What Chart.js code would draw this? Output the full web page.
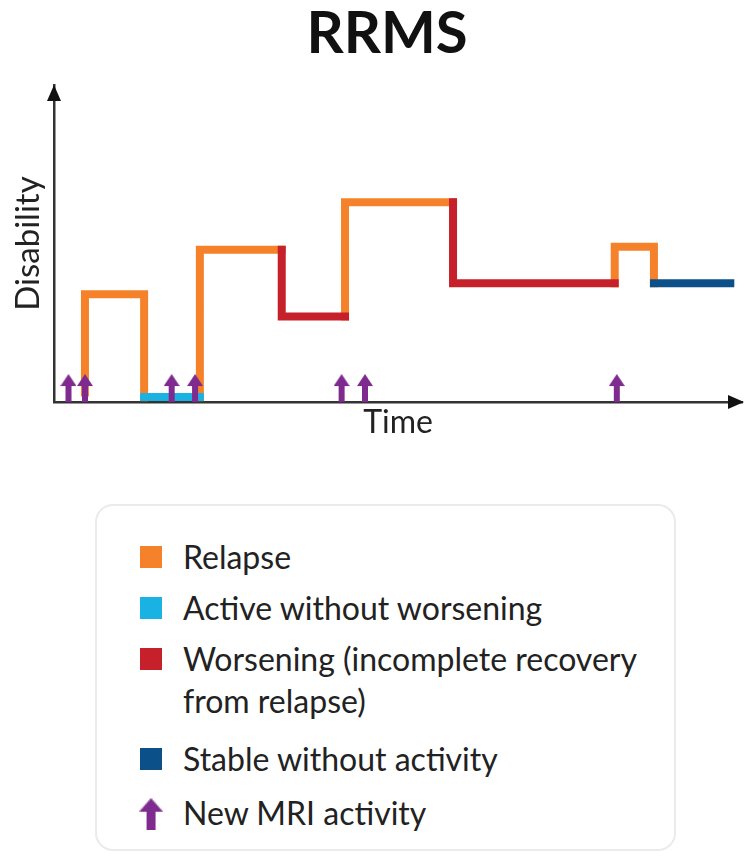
<!DOCTYPE html>
<html>
<head>
<meta charset="utf-8">
<script src="https://cdn.jsdelivr.net/npm/chart.js@4"></script>
<style>
	body { margin: 0; background: #fff; font-family: Lato, sans-serif; color: #222; }
	#page { position: relative; width: 744px; height: 859px; overflow: hidden; }
	#title { position: absolute; left: 0; top: 2px; width: 774px; text-align: center; font-weight: bold; font-size: 58px; line-height: 58px; color: #111; }
	#wrap { position: absolute; left: 0; top: 0; width: 744px; height: 460px; }
	#legend { position: absolute; left: 95px; top: 504px; width: 581px; height: 347px; border: 2px solid #ebebeb; border-radius: 18px; box-sizing: border-box; padding-top: 30px; }
	.item { position: relative; padding-left: 86px; font-size: 32px; line-height: 42px; margin-bottom: 9px; }
	.box { position: absolute; left: 43px; top: 10px; width: 22px; height: 22px; }
	.item img { position: absolute; left: 42px; top: 6px; }
</style>
</head>
<body>
<div id="page">
	<div id="wrap"><canvas id="myChart"></canvas></div>
	<div id="title">RRMS</div>
	<div id="legend"></div>
</div>
<script>
// time axis 0..100, disability axis 0..100
var relapseX = [4.5, 4.5, 13.1, 13.1, null, 21.2, 21.2, 33.1, null, 42.3, 42.3, 58, null, 81.5, 81.5, 87.2, 87.2];
var relapseY = [3, 34, 34, 1.5, null, 1.5, 48, 48, null, 27, 63, 63, null, 37.5, 49, 49, 37.5];
var activeX = [13.1, 21.2];
var activeY = [1.6, 1.6];
var worseX = [33.1, 33.1, 42.3, null, 58, 58, 81.5];
var worseY = [48, 27, 27, null, 63, 37.5, 37.5];
var stableX = [87.2, 98.3];
var stableY = [37.5, 37.5];
var mriX = [2.1, 4.5, 17.1, 20.5, 41.8, 45.2, 81.8];
var mriY = [4.4, 4.4, 4.4, 4.4, 4.4, 4.4, 4.4];

var labels = ["Relapse", "Active without worsening", "Worsening (incomplete recovery<br>from relapse)", "Stable without activity", "New MRI activity"];
var colors = ["#F5822A", "#19B2E3", "#C6202B", "#0B5088", "#7E2A8E"];

function pts(xs, ys) {
	var out = [];
	for (var i = 0; i < xs.length; i++) {
		out.push({ x: xs[i] === null ? NaN : xs[i], y: ys[i] });
	}
	return out;
}

// purple arrow used as point style
var arrow = document.createElement("canvas");
arrow.width = 16;
arrow.height = 28;
var actx = arrow.getContext("2d");
actx.fillStyle = colors[4];
actx.beginPath();
actx.moveTo(8, 0);
actx.lineTo(16, 12);
actx.lineTo(0, 12);
actx.closePath();
actx.fill();
actx.fillRect(5, 11, 6, 17);

function stepSet(label, data, color) {
	return {
		type: "line",
		label: label,
		data: data,
		borderColor: color,
		backgroundColor: color,
		borderWidth: 8,
		borderCapStyle: "square",
		borderJoinStyle: "miter",
		pointRadius: 0,
		fill: false,
		tension: 0,
		spanGaps: false,
		clip: false
	};
}

var axisArrows = {
	id: "axisArrows",
	afterDraw: function(chart) {
		var c = chart.ctx, a = chart.chartArea;
		c.save();
		c.fillStyle = "#111";
		c.beginPath();
		c.moveTo(a.left, a.top);
		c.lineTo(a.left + 7, a.top + 16);
		c.lineTo(a.left - 7, a.top + 16);
		c.closePath();
		c.fill();
		c.beginPath();
		c.moveTo(a.right + 2, a.bottom);
		c.lineTo(a.right - 14, a.bottom - 7);
		c.lineTo(a.right - 14, a.bottom + 7);
		c.closePath();
		c.fill();
		c.restore();
	}
};

var ctx = document.getElementById("myChart");
var myChart = new Chart(ctx, {
	type: "line",
	data: {
		datasets: [
			{
				type: "scatter",
				label: "New MRI activity",
				data: pts(mriX, mriY),
				pointStyle: arrow,
				pointRadius: 10,
				clip: false
			},
			stepSet("Worsening", pts(worseX, worseY), colors[2]),
			stepSet("Stable without activity", pts(stableX, stableY), colors[3]),
			stepSet("Active without worsening", pts(activeX, activeY), colors[1]),
			stepSet("Relapse", pts(relapseX, relapseY), colors[0])
		]
	},
	options: {
		responsive: true,
		maintainAspectRatio: false,
		animation: false,
		layout: { autoPadding: false, padding: { top: 85, right: 2, left: 0, bottom: 0 } },
		plugins: { legend: { display: false }, tooltip: { enabled: false } },
		scales: {
			x: {
				type: "linear",
				min: 0,
				max: 100,
				grid: { display: false },
				border: { display: true, color: "#333", width: 2.5 },
				ticks: { display: false },
				title: { display: true, text: "Time", color: "#222", font: { family: "Lato", size: 32 }, padding: { top: 0, bottom: 18 } },
				afterFit: function(s) { s.height = 58; }
			},
			y: {
				min: 0,
				max: 100,
				grid: { display: false },
				border: { display: true, color: "#333", width: 2.5 },
				ticks: { display: false },
				title: { display: true, text: "Disability", color: "#222", font: { family: "Lato", size: 33 }, padding: { top: 9, bottom: 0 } },
				afterFit: function(s) { s.width = 54; }
			}
		}
	},
	plugins: [axisArrows]
});

// legend
var legend = document.getElementById("legend");
for (var i = 0; i < labels.length; i++) {
	var item = document.createElement("div");
	item.className = "item";
	if (i == 3) item.style.marginTop = "16px";
	if (i == 4) item.style.marginTop = "12px";
	if (i == 4) {
		var img = document.createElement("img");
		img.src = arrow.toDataURL();
		img.width = 24;
		img.height = 32;
		item.appendChild(img);
	} else {
		var sq = document.createElement("span");
		sq.className = "box";
		sq.style.background = colors[i];
		item.appendChild(sq);
	}
	var txt = document.createElement("span");
	txt.innerHTML = labels[i];
	item.appendChild(txt);
	legend.appendChild(item);
}
</script>
</body>
</html>
